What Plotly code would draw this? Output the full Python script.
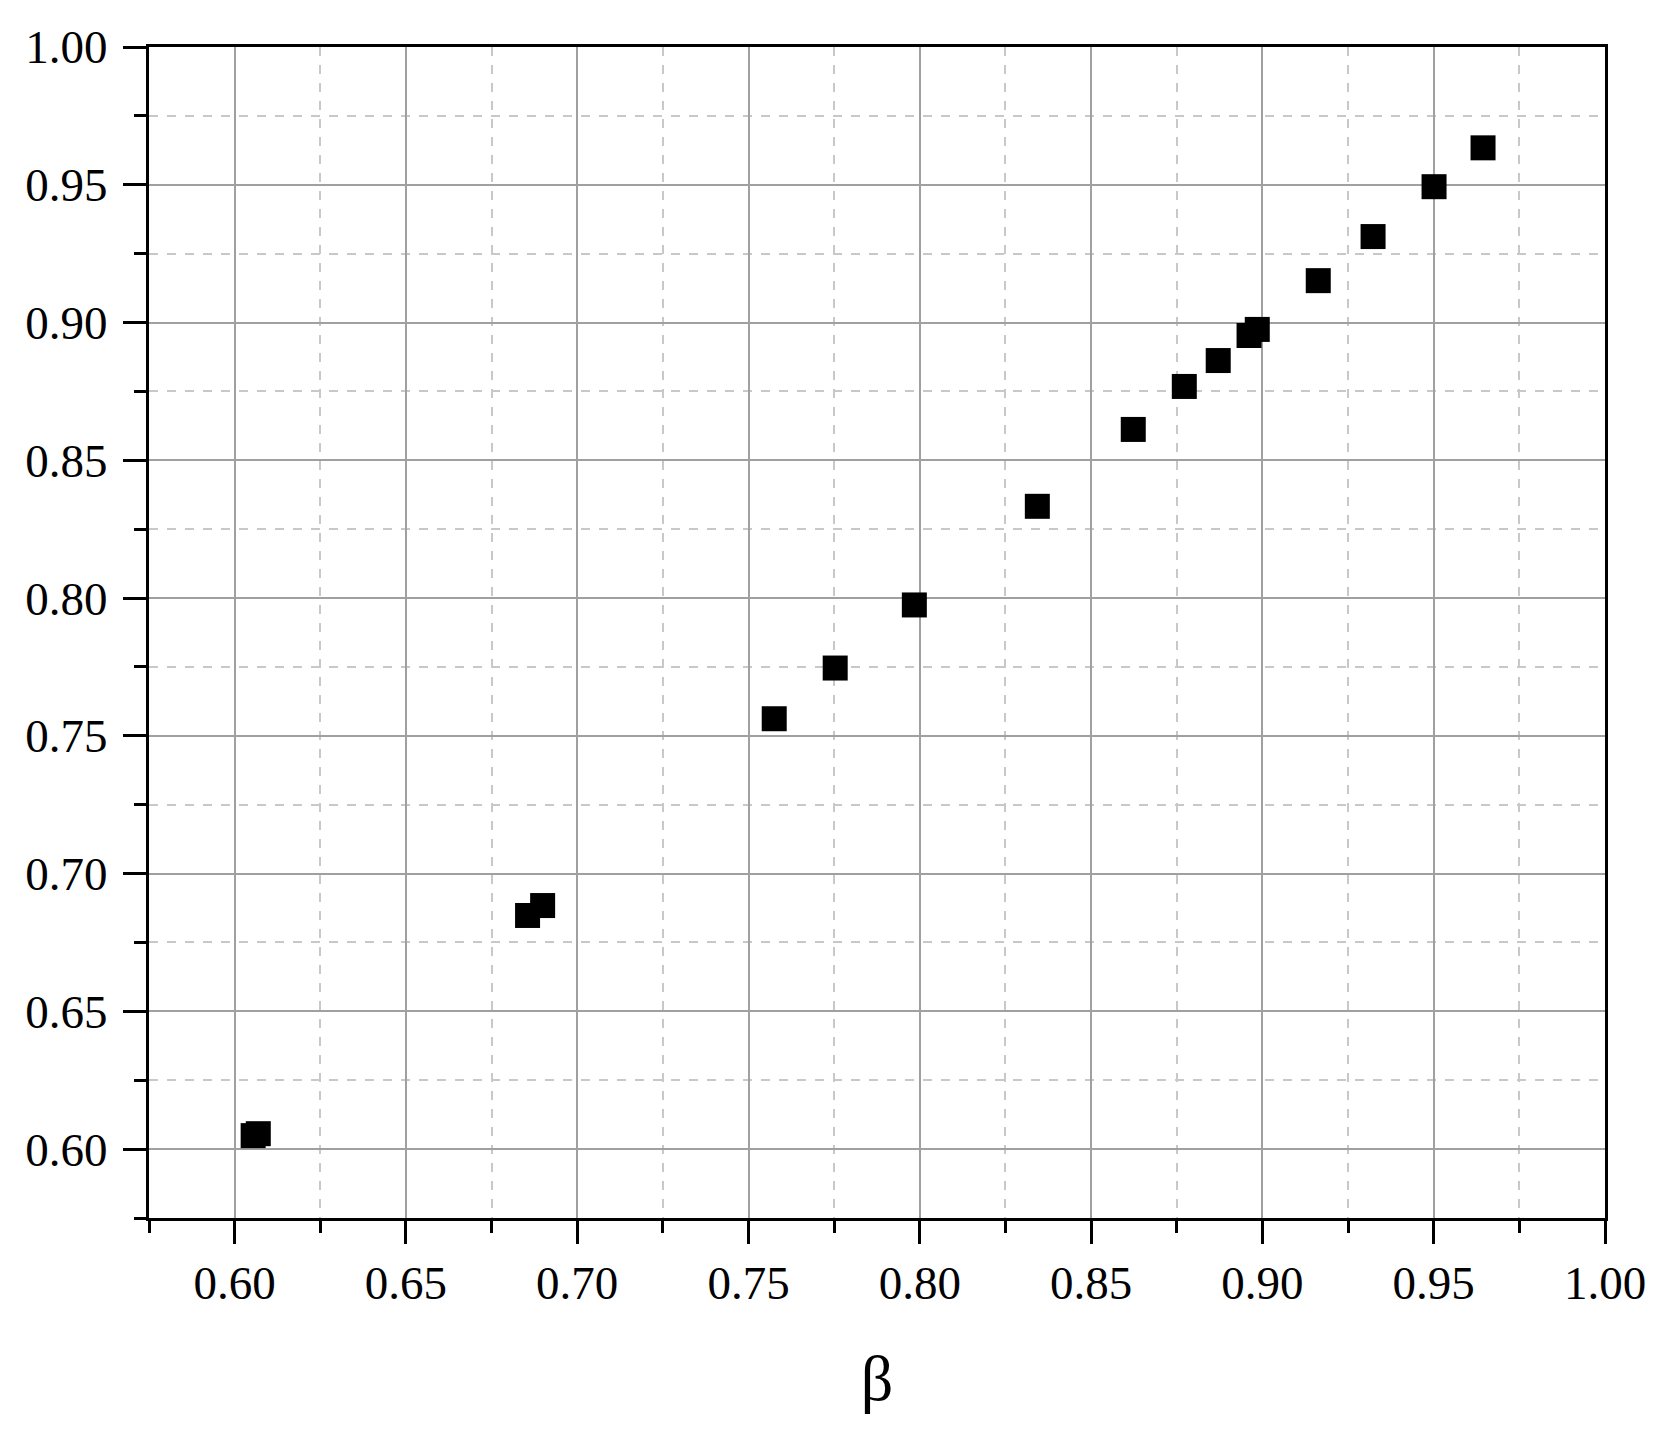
import plotly.graph_objects as go

beta = [0.6054, 0.6069, 0.6855, 0.6899, 0.7575, 0.7753, 0.7984, 0.8343,
        0.8623, 0.8772, 0.8871, 0.8961, 0.8985, 0.9163, 0.9323, 0.9501, 0.9644]
ratio = [0.6049, 0.6056, 0.6848, 0.6884, 0.7562, 0.7746, 0.7975, 0.8333,
         0.8612, 0.8768, 0.8862, 0.8953, 0.8975, 0.9152, 0.9312, 0.9493, 0.9634]

tick_vals = [0.60, 0.65, 0.70, 0.75, 0.80, 0.85, 0.90, 0.95, 1.00]
tick_text = [f"{v:.2f}" for v in tick_vals]

serif = "Liberation Serif, Times New Roman, serif"

fig = go.Figure()
fig.add_trace(
    go.Scatter(
        x=beta,
        y=ratio,
        mode="markers",
        marker=dict(symbol="square", size=25, color="black", line=dict(width=0)),
        showlegend=False,
    )
)

axis_style = dict(
    range=[0.575, 1.0],
    tickvals=tick_vals,
    ticktext=tick_text,
    showline=True,
    linecolor="black",
    linewidth=3,
    mirror=True,
    ticks="outside",
    ticklen=23,
    tickwidth=3,
    tickcolor="black",
    showgrid=True,
    gridcolor="#a0a0a0",
    gridwidth=2,
    zeroline=False,
    tickfont=dict(family=serif, size=47, color="black"),
    minor=dict(
        tick0=0.0,
        dtick=0.025,
        ticks="outside",
        ticklen=12,
        tickwidth=3,
        tickcolor="black",
        showgrid=True,
        gridcolor="#c8c8c8",
        gridwidth=1.5,
        griddash="dash",
    ),
)

fig.update_xaxes(
    **axis_style,
    ticklabelstandoff=-1,
    title=dict(text="β", font=dict(family=serif, size=64, color="black"), standoff=47),
)
fig.update_yaxes(**axis_style, ticklabelstandoff=6)

# page body has an 8px margin, so the figure is shifted by that much
fig.update_layout(
    width=1652,
    height=1419,
    margin=dict(l=141, r=55, t=39, b=209),
    plot_bgcolor="white",
    paper_bgcolor="white",
)

fig.write_html("out.html")
